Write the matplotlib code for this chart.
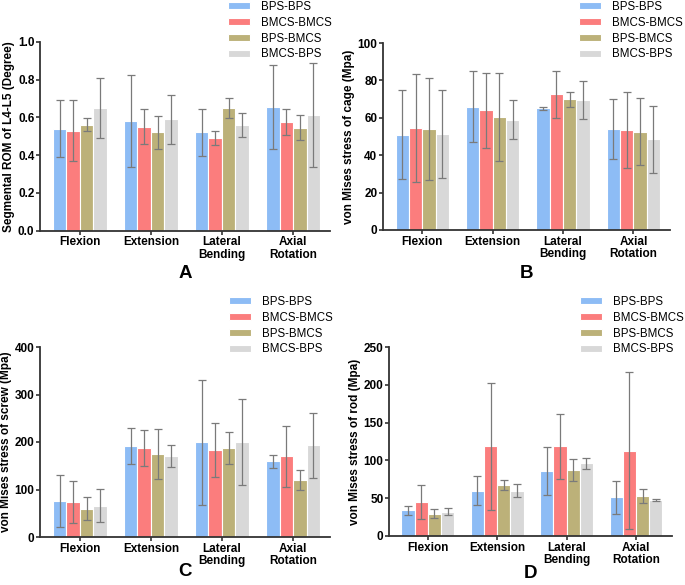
import numpy as np
import matplotlib.pyplot as plt

plt.rcParams["font.family"] = ["Liberation Sans", "DejaVu Sans"]

# DATA
groups = ["BPS-BPS", "BMCS-BMCS", "BPS-BMCS", "BMCS-BPS"]
motions = ["Flexion", "Extension", "Lateral\nBending", "Axial\nRotation"]
colors = ["#8dbcf5", "#fb7d7d", "#bcb179", "#d8d8d8"]

# rows = motions, cols = groups
rom_mean = [[0.54, 0.53, 0.56, 0.65],
            [0.58, 0.55, 0.52, 0.59],
            [0.52, 0.49, 0.65, 0.56],
            [0.655, 0.575, 0.545, 0.61]]
rom_sd = [[0.15, 0.16, 0.035, 0.157],
          [0.245, 0.093, 0.088, 0.13],
          [0.125, 0.035, 0.052, 0.065],
          [0.222, 0.068, 0.065, 0.275]]

cage_mean = [[51, 54.5, 54, 51.5],
             [66, 64, 60.5, 59],
             [65, 72.5, 70, 69.5],
             [54, 53.5, 52.5, 48.5]]
cage_sd = [[23.7, 29, 27.5, 23.5],
           [18.8, 20, 23.5, 10.5],
           [0.8, 12.5, 4, 10.3],
           [16, 20.3, 18, 17.8]]

screw_mean = [[76, 74, 60, 66],
              [191, 188, 175, 171],
              [199, 183, 188, 200],
              [159, 170, 120, 193]]
screw_sd = [[54.5, 43.5, 23.5, 35],
            [38, 38, 53, 23.5],
            [132, 56, 34, 91],
            [13.5, 64, 22, 68]]

rod_mean = [[34, 45, 29.5, 32],
            [60, 119, 67, 60],
            [86, 119, 87, 96],
            [51, 113, 53, 48]]
rod_sd = [[6, 22, 6, 4.5],
          [19, 84, 6.5, 9],
          [32, 43, 14.5, 7.5],
          [22, 103.5, 9.5, 1.5]]


def draw_panel(fig, rect, mean, sd, ylabel, ylim, yticks, ytick_fmt, letter, letter_y, legend_xy):
    ax = fig.add_axes(rect)
    mean = np.array(mean)
    sd = np.array(sd)
    x = np.arange(len(motions))
    w = 0.19
    handles = []
    for j, g in enumerate(groups):
        pos = x + (j - 1.5) * w
        b = ax.bar(pos, mean[:, j], width=w, color=colors[j], edgecolor="white",
                   linewidth=0.8, label=g, zorder=2)
        ax.errorbar(pos, mean[:, j], yerr=sd[:, j], fmt="none", ecolor="#7a7a7a",
                    elinewidth=0.9, capsize=3, capthick=0.9, zorder=3)
        handles.append(b)
    ax.set_xlim(-0.56, 3.52)
    ax.set_ylim(*ylim)
    ax.set_yticks(yticks)
    ax.set_yticklabels([ytick_fmt.format(v) for v in yticks], fontweight="bold", fontsize=8.5)
    ax.set_xticks(x)
    ax.set_xticklabels(motions, fontweight="bold", fontsize=8.5, linespacing=1.1)
    ax.set_ylabel(ylabel, fontweight="bold", fontsize=8.5, labelpad=2)
    for s in ["top", "right"]:
        ax.spines[s].set_visible(False)
    for s in ["left", "bottom"]:
        ax.spines[s].set_linewidth(1.3)
        ax.spines[s].set_color("#333333")
    ax.tick_params(axis="both", direction="out", length=3, width=1.2, color="#333333", pad=1)
    fig.text(rect[0] + rect[2] * 0.5, letter_y, letter, ha="center", va="center",
             fontsize=13.5, fontweight="bold")
    fig.legend(handles, groups, loc="upper left", bbox_to_anchor=legend_xy, frameon=False,
               fontsize=8.3, handlelength=1.9, handleheight=0.55, handletextpad=0.95,
               labelspacing=0.33, borderaxespad=0, borderpad=0)
    return ax


def main():
    fig = plt.figure(figsize=(6.85, 5.85), dpi=100, facecolor="white")
    W, H = 685.0, 585.0

    def rect(l, r, top, bottom):
        return [l / W, 1 - bottom / H, (r - l) / W, (bottom - top) / H]

    draw_panel(fig, rect(40, 330, 41.7, 230.7), rom_mean, rom_sd,
               "Segmental ROM of L4-L5 (Degree)", (0, 1.0),
               [0, 0.2, 0.4, 0.6, 0.8, 1.0], "{:.1f}", "A", 1 - 274 / H,
               (228 / W, 1 - 1 / H))
    draw_panel(fig, rect(383, 670, 43, 230), cage_mean, cage_sd,
               "von Mises stress of cage (Mpa)", (0, 100),
               [0, 20, 40, 60, 80, 100], "{:g}", "B", 1 - 273 / H,
               (579 / W, 1 - 1 / H))
    draw_panel(fig, rect(40, 330, 347, 537), screw_mean, screw_sd,
               "von Mises stress of screw (Mpa)", (0, 400),
               [0, 100, 200, 300, 400], "{:g}", "C", 1 - 572 / H,
               (229 / W, 1 - 296 / H))
    draw_panel(fig, rect(389, 672, 347, 536), rod_mean, rod_sd,
               "von Mises stress of rod (Mpa)", (0, 250),
               [0, 50, 100, 150, 200, 250], "{:g}", "D", 1 - 573 / H,
               (580 / W, 1 - 296 / H))

    fig.savefig("out.png", dpi=100)


if __name__ == "__main__":
    main()
